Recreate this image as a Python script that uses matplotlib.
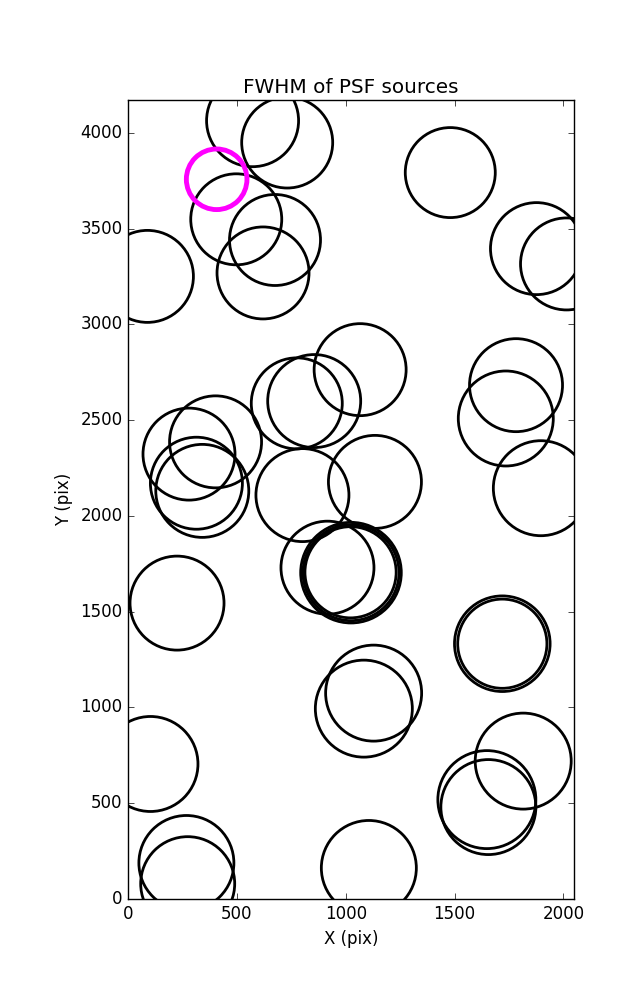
import numpy as np
import matplotlib
matplotlib.use('Agg')
import matplotlib.pyplot as plt

plt.style.use('classic')

# source positions (pix) and FWHM (pix)
src_x = [572, 731, 1480, 497, 675, 620, 89, 1876, 2014,
         1066, 775, 855, 1782, 1735, 280, 402, 314, 341, 801, 1134, 1896,
         916, 1024, 1024, 1022, 225, 1719, 1719, 1128, 1083,
         103, 1815, 1648, 1655, 1106, 268, 274]
src_y = [4064, 3950, 3793, 3549, 3441, 3269, 3251, 3396, 3316,
         2764, 2588, 2600, 2683, 2509, 2323, 2387, 2171, 2131, 2109, 2178, 2145,
         1730, 1704, 1704, 1706, 1545, 1333, 1333, 1075, 994,
         705, 720, 519, 480, 162, 188, 80]
src_fwhm = [4.6, 4.55, 4.5, 4.55, 4.55, 4.6, 4.6, 4.6, 4.6,
            4.6, 4.55, 4.65, 4.65, 4.75, 4.6, 4.6, 4.6, 4.65, 4.65, 4.65, 4.75,
            4.65, 5.03, 4.8, 4.56, 4.7, 4.78, 4.46, 4.8, 4.85,
            4.75, 4.8, 4.9, 4.75, 4.75, 4.75, 4.7]

# highlighted source
sel_x = [407]
sel_y = [3758]
sel_fwhm = [3.03]

x_max = 2048
y_max = 4172


def fwhm_to_size(fwhm):
    # marker diameter in points
    return (np.asarray(fwhm) * 14.4) ** 2


fig = plt.figure(figsize=(6.37, 10), facecolor='white')
ax = fig.add_subplot(111)
fig.subplots_adjust(left=0.201, right=0.901, bottom=0.101, top=0.9)

ax.scatter(src_x, src_y, s=fwhm_to_size(src_fwhm), facecolors='none',
           edgecolors='black', linewidths=2)
ax.scatter(sel_x, sel_y, s=fwhm_to_size(sel_fwhm), facecolors='none',
           edgecolors='magenta', linewidths=3.5)

ax.set_xlim(0, x_max)
ax.set_ylim(0, y_max)
ax.set_xticks(range(0, 2001, 500))
ax.set_yticks(range(0, 4001, 500))
ax.set_xlabel('X (pix)')
ax.set_ylabel('Y (pix)')
ax.set_title('FWHM of PSF sources')

fig.savefig('out.png', dpi=100, facecolor='white')
